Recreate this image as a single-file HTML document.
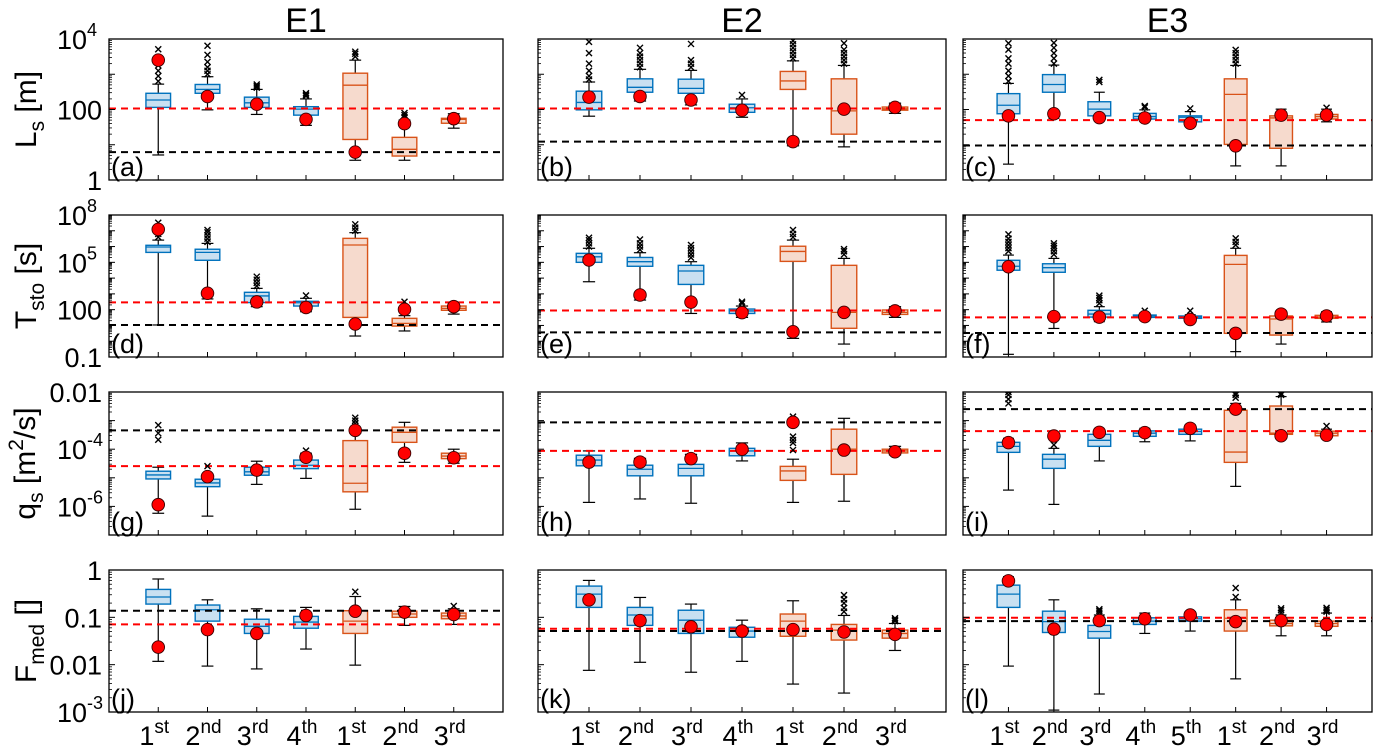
<!DOCTYPE html>
<html><head><meta charset="utf-8"><style>
html,body{margin:0;padding:0;background:#fff;}
svg{display:block;font-family:"Liberation Sans",Arial,sans-serif;}
</style></head><body>
<svg id="fig" width="1373" height="749" viewBox="0 0 1373 749" xmlns="http://www.w3.org/2000/svg"></svg>
<script>
// ---- data (log10 units) ----
const catsE1=["1st","2nd","3rd","4th","1st","2nd","3rd"];
const catsE2=["1st","2nd","3rd","4th","1st","2nd","3rd"];
const catsE3=["1st","2nd","3rd","4th","5th","1st","2nd","3rd"];
const nBlueE1=4, nBlueE2=4, nBlueE3=5;

const a_q1=[2.06,2.46,2.06,1.84,1.15,0.68,1.61];
const a_med=[2.27,2.57,2.19,2.01,2.69,0.87,1.72];
const a_q3=[2.46,2.71,2.35,2.08,3.03,1.21,1.75];
const a_wlo=[0.71,1.99,1.86,1.55,0.56,0.56,1.47];
const a_whi=[2.72,2.93,2.57,2.30,3.40,1.70,1.88];
const a_red=[3.40,2.37,2.15,1.72,0.79,1.60,1.74];
const a_out=[[2.8,2.95,3.1,3.25,3.45,3.71],[3.0,3.1,3.2,3.35,3.55,3.81],[2.62,2.66,2.71],[2.38,2.42,2.46],[3.5,3.58,3.64],[1.78,1.84,1.9],[]];
const a_ref=[2.03,0.79];

const b_q1=[1.99,2.49,2.46,1.92,2.57,1.30,1.98];
const b_med=[2.20,2.63,2.60,2.05,2.81,1.96,2.02];
const b_q3=[2.52,2.87,2.86,2.15,3.08,2.87,2.07];
const b_wlo=[1.81,2.24,2.13,1.78,0.97,0.94,1.89];
const b_whi=[2.78,3.14,3.11,2.30,3.38,3.25,2.18];
const b_red=[2.35,2.37,2.27,1.98,1.09,2.01,2.06];
const b_out=[[2.85,2.95,3.1,3.3,3.6,3.92],[3.2,3.3,3.4,3.5,3.6,3.75],[3.2,3.3,3.4,3.86],[2.41],[3.45,3.55,3.65,3.75,3.85,3.95],[3.3,3.4,3.5,3.6,3.7,3.88],[]];
const b_ref=[2.03,1.09];

const c_q1=[1.88,2.49,1.82,1.73,1.65,1.01,0.90,1.73];
const c_med=[2.12,2.71,2.01,1.80,1.78,2.43,1.76,1.80];
const c_q3=[2.45,2.99,2.22,1.89,1.82,2.87,1.82,1.86];
const c_wlo=[0.45,1.75,1.77,1.68,1.61,0.40,0.40,1.65];
const c_whi=[2.74,3.26,2.49,1.99,1.94,3.25,2.01,2.01];
const c_red=[1.82,1.88,1.77,1.76,1.61,0.97,1.84,1.84];
const c_out=[[2.8,2.95,3.1,3.3,3.45,3.7,3.88],[3.3,3.45,3.6,3.75,3.89],[2.78,2.84],[2.06,2.1],[2.03],[3.3,3.4,3.5,3.6,3.69],[],[2.05]];
const c_ref=[1.70,0.98];

const d_q1=[5.63,5.13,2.45,2.23,1.51,0.96,1.96];
const d_med=[5.97,5.63,2.87,2.44,6.10,1.13,2.08];
const d_q3=[6.08,5.83,3.10,2.53,6.52,1.45,2.23];
const d_wlo=[1.03,2.68,2.19,1.87,0.33,0.65,1.72];
const d_whi=[6.41,6.20,3.35,2.72,6.88,1.62,2.40];
const d_red=[7.09,3.04,2.49,2.14,1.09,2.02,2.19];
const d_out=[[6.6,6.8,7.0,7.2,7.51],[6.3,6.5,6.7,6.9,7.05],[3.5,3.7,3.9,4.09],[2.9],[7.0,7.2,7.41],[1.9,2.2,2.5],[]];
const d_ref=[2.46,1.03];

const e_q1=[5.00,4.75,3.60,1.76,5.06,0.82,1.70];
const e_med=[5.35,5.04,4.45,1.92,5.69,1.83,1.83];
const e_q3=[5.57,5.31,4.81,2.04,6.02,4.81,1.98];
const e_wlo=[3.77,2.61,1.76,1.51,0.18,-0.18,1.51];
const e_whi=[5.89,5.61,5.04,2.23,6.41,5.25,2.19];
const e_red=[5.15,2.93,2.48,1.81,0.60,1.83,1.92];
const e_out=[[6.0,6.2,6.4,6.56],[5.8,6.0,6.2,6.45],[5.3,5.5,5.7,5.9,6.1],[2.4,2.5],[6.6,6.8,7.05],[5.5,5.7,5.84],[]];
const e_ref=[1.95,0.56];

const f_q1=[4.50,4.37,1.53,1.51,1.45,0.50,0.39,1.45];
const f_med=[4.75,4.66,1.72,1.59,1.53,4.87,1.41,1.53];
const f_q3=[5.13,4.91,1.96,1.66,1.60,5.44,1.60,1.64];
const f_wlo=[-0.83,0.81,1.24,1.45,1.39,-0.66,-0.18,1.22];
const f_whi=[5.46,5.25,2.19,1.78,1.68,5.89,1.87,1.87];
const f_red=[4.72,1.56,1.53,1.56,1.38,0.50,1.72,1.60];
const f_out=[[5.7,5.9,6.1,6.3,6.5,6.77],[5.5,5.7,5.9,6.05,6.2],[2.4,2.6,2.75,2.89],[1.93],[1.93],[6.1,6.3,6.52],[],[]];
const f_ref=[1.51,0.52];

const g_q1=[-5.04,-5.31,-4.91,-4.68,-5.49,-3.76,-4.33];
const g_med=[-4.90,-5.18,-4.79,-4.56,-5.19,-3.41,-4.24];
const g_q3=[-4.77,-5.05,-4.63,-4.38,-3.70,-3.23,-4.14];
const g_wlo=[-6.24,-6.34,-5.23,-5.02,-6.10,-4.46,-4.49];
const g_whi=[-4.63,-4.94,-4.42,-4.14,-3.44,-3.06,-4.00];
const g_red=[-5.94,-4.96,-4.73,-4.28,-3.34,-4.14,-4.30];
const g_out=[[-3.67,-3.44,-3.16],[-4.59],[],[-4.05],[-3.2,-3.1,-3.0,-2.9],[],[]];
const g_ref=[-4.59,-3.34];

const h_q1=[-4.58,-4.93,-4.93,-4.23,-5.09,-4.88,-4.13];
const h_med=[-4.38,-4.70,-4.67,-4.06,-4.76,-4.00,-4.06];
const h_q3=[-4.21,-4.56,-4.53,-3.97,-4.60,-3.30,-4.00];
const h_wlo=[-5.86,-5.74,-5.89,-4.41,-5.86,-5.82,-4.20];
const h_whi=[-4.06,-4.32,-4.18,-3.78,-4.35,-2.92,-3.90];
const h_red=[-4.45,-4.45,-4.33,-4.00,-3.06,-4.03,-4.09];
const h_out=[[],[],[],[],[-4.03,-3.78,-3.68,-3.56,-2.95,-2.86],[],[]];
const h_ref=[-4.06,-3.06];

const i_q1=[-4.11,-4.67,-3.90,-3.55,-3.48,-4.46,-3.48,-3.53];
const i_med=[-3.90,-4.35,-3.69,-3.44,-3.38,-4.10,-3.44,-3.44];
const i_q3=[-3.76,-4.18,-3.48,-3.36,-3.30,-2.64,-2.49,-3.37];
const i_wlo=[-5.43,-5.93,-4.41,-3.74,-3.71,-5.30,-3.55,-3.58];
const i_whi=[-3.62,-3.97,-3.35,-3.27,-3.15,-2.40,-2.16,-3.30];
const i_red=[-3.77,-3.54,-3.41,-3.42,-3.27,-2.60,-3.53,-3.51];
const i_out=[[-2.4,-2.25,-2.1,-2.0],[-3.85],[],[],[],[-2.2,-2.1,-2.05],[-2.1,-2.05],[-3.19]];
const i_ref=[-3.37,-2.60];

const j_q1=[-0.72,-1.08,-1.34,-1.23,-1.34,-1.00,-1.03];
const j_med=[-0.57,-0.84,-1.19,-1.10,-1.08,-0.93,-0.97];
const j_q3=[-0.41,-0.74,-1.04,-0.98,-0.86,-0.87,-0.91];
const j_wlo=[-1.93,-2.03,-2.09,-1.67,-2.01,-1.17,-1.15];
const j_whi=[-0.19,-0.63,-0.82,-0.79,-0.56,-0.77,-0.82];
const j_red=[-1.63,-1.26,-1.34,-0.96,-0.87,-0.89,-0.94];
const j_out=[[],[],[],[],[-0.46],[],[-0.76]];
const j_ref=[-1.15,-0.86];

const k_q1=[-0.79,-1.17,-1.34,-1.42,-1.40,-1.48,-1.44];
const k_med=[-0.51,-0.95,-1.06,-1.29,-1.08,-1.27,-1.34];
const k_q3=[-0.34,-0.79,-0.85,-1.21,-0.93,-1.15,-1.27];
const k_wlo=[-2.12,-1.95,-2.16,-1.93,-2.41,-2.60,-1.70];
const k_whi=[-0.22,-0.58,-0.72,-1.06,-0.65,-0.96,-1.13];
const k_red=[-0.63,-1.07,-1.20,-1.29,-1.26,-1.31,-1.36];
const k_out=[[],[],[],[],[],[-0.88,-0.8,-0.7,-0.62,-0.53],[-1.08,-1.05,-1.02]];
const k_ref=[-1.24,-1.29];

const l_q1=[-0.79,-1.32,-1.44,-1.15,-1.08,-1.29,-1.18,-1.19];
const l_med=[-0.51,-1.09,-1.30,-1.08,-1.03,-1.02,-1.13,-1.13];
const l_q3=[-0.32,-0.87,-1.17,-1.01,-0.99,-0.84,-1.06,-1.08];
const l_wlo=[-2.03,-2.96,-2.62,-1.34,-1.29,-2.30,-1.39,-1.39];
const l_whi=[-0.14,-0.63,-0.95,-0.91,-0.88,-0.63,-0.95,-0.91];
const l_red=[-0.23,-1.25,-1.07,-1.03,-0.95,-1.09,-1.07,-1.15];
const l_out=[[],[],[-0.9,-0.86,-0.83],[],[],[-0.57,-0.38],[-0.9,-0.85,-0.81],[-0.88,-0.84,-0.8]];
const l_ref=[-1.01,-1.08];

// ---- layout ----
const NS="http://www.w3.org/2000/svg";
const svg=document.getElementById('fig');
function mk(tag,attrs,parent){const e=document.createElementNS(NS,tag);for(const k in attrs)e.setAttribute(k,attrs[k]);(parent||svg).appendChild(e);return e;}

const cols=[{x0:109,x1:503,xmax:8,cats:catsE1,nb:nBlueE1,title:"E1"},
            {x0:538,x1:946,xmax:8,cats:catsE2,nb:nBlueE2,title:"E2"},
            {x0:963,x1:1372,xmax:9,cats:catsE3,nb:nBlueE3,title:"E3"}];
const rows=[{y0:39,y1:180,lo:0,hi:4},{y0:215,y1:357,lo:-1,hi:8},{y0:392,y1:535,lo:-7,hi:-2},{y0:570,y1:712,lo:-3,hi:0}];
const panels=[
 ["a",a_q1,a_med,a_q3,a_wlo,a_whi,a_red,a_out,a_ref],["b",b_q1,b_med,b_q3,b_wlo,b_whi,b_red,b_out,b_ref],["c",c_q1,c_med,c_q3,c_wlo,c_whi,c_red,c_out,c_ref],
 ["d",d_q1,d_med,d_q3,d_wlo,d_whi,d_red,d_out,d_ref],["e",e_q1,e_med,e_q3,e_wlo,e_whi,e_red,e_out,e_ref],["f",f_q1,f_med,f_q3,f_wlo,f_whi,f_red,f_out,f_ref],
 ["g",g_q1,g_med,g_q3,g_wlo,g_whi,g_red,g_out,g_ref],["h",h_q1,h_med,h_q3,h_wlo,h_whi,h_red,h_out,h_ref],["i",i_q1,i_med,i_q3,i_wlo,i_whi,i_red,i_out,i_ref],
 ["j",j_q1,j_med,j_q3,j_wlo,j_whi,j_red,j_out,j_ref],["k",k_q1,k_med,k_q3,k_wlo,k_whi,k_red,k_out,k_ref],["l",l_q1,l_med,l_q3,l_wlo,l_whi,l_red,l_out,l_ref]];
const yTickLabels=[[[0,"1"],[2,"100"],[4,"10","4"]],[[-1,"0.1"],[2,"100"],[5,"10","5"],[8,"10","8"]],[[-2,"0.01"],[-4,"10","-4"],[-6,"10","-6"]],[[0,"1"],[-1,"0.1"],[-2,"0.01"],[-3,"10","-3"]]];

// titles
cols.forEach((c,ci)=>{
  const t=mk('text',{x:(c.x0+c.x1)/2,y:32,'font-size':34,'text-anchor':'middle'});
  t.textContent=c.title;
  
  
});

// y-axis titles
const ylabs=[["L","s"," [m]"],["T","sto"," [s]"],["q","s"," [m","2","/s]"],["F","med"," []"]];
ylabs.forEach((lab,ri)=>{
  const r=rows[ri];const cy=(r.y0+r.y1)/2;
  const t=mk('text',{x:0,y:0,'font-size':30,'text-anchor':'middle',transform:`translate(${ri==2?35:36},${cy}) rotate(-90)`});
  
  
  let s=mk('tspan',{},t);s.textContent=lab[0];
  s=mk('tspan',{'font-size':21,dy:8},t);s.textContent=lab[1];
  s=mk('tspan',{dy:-8},t);s.textContent=lab[2];
  if(lab.length>3){s=mk('tspan',{'font-size':21,dy:-12},t);s.textContent=lab[3];s=mk('tspan',{dy:12},t);s.textContent=lab[4];}
});

panels.forEach((p,pi)=>{
  const ci=pi%3, ri=Math.floor(pi/3), c=cols[ci], r=rows[ri];
  const [lett,q1,med,q3,wlo,whi,red,out,ref]=p;
  const sx=v=>c.x0+(c.x1-c.x0)*v/c.xmax;
  const sy=v=>r.y1-(r.y1-r.y0)*(v-r.lo)/(r.hi-r.lo);
  const unit=(c.x1-c.x0)/c.xmax;
  const g=mk('g',{});
  
  
  const clip=mk('clipPath',{id:'cp'+lett},g);mk('rect',{x:c.x0,y:r.y0,width:c.x1-c.x0,height:r.y1-r.y0},clip);
  const plot=mk('g',{'clip-path':`url(#cp${lett})`},g);
  q1.forEach((_,k)=>{
    const x=sx(k+1), blue=k<c.nb;
    const stroke=blue?"#0072bd":"#d95319", fill=blue?"#c9e0f1":"#f6dacd";
    const bg=mk('g',{},plot);
    
    
    mk('line',{x1:x,x2:x,y1:sy(q1[k]),y2:sy(wlo[k]),stroke:"#000",'stroke-width':1.2},bg);
    mk('line',{x1:x,x2:x,y1:sy(q3[k]),y2:sy(whi[k]),stroke:"#000",'stroke-width':1.2},bg);
    mk('line',{x1:x-unit*0.12,x2:x+unit*0.12,y1:sy(wlo[k]),y2:sy(wlo[k]),stroke:"#000",'stroke-width':1.2},bg);
    mk('line',{x1:x-unit*0.12,x2:x+unit*0.12,y1:sy(whi[k]),y2:sy(whi[k]),stroke:"#000",'stroke-width':1.2},bg);
    const top=sy(q3[k]),bot=sy(q1[k]);
    mk('rect',{x:x-unit*0.25,y:top,width:unit*0.5,height:Math.max(bot-top,1),fill:fill,stroke:stroke,'stroke-width':1.4},bg);
    mk('line',{x1:x-unit*0.25,x2:x+unit*0.25,y1:sy(med[k]),y2:sy(med[k]),stroke:stroke,'stroke-width':1.3},bg);
  });
  const rl=mk('line',{x1:c.x0,x2:c.x1,y1:sy(ref[0]),y2:sy(ref[0]),stroke:"#ff0000",'stroke-width':2,'stroke-dasharray':'7 5'},plot);
  
  
  const bl=mk('line',{x1:c.x0,x2:c.x1,y1:sy(ref[1]),y2:sy(ref[1]),stroke:"#000",'stroke-width':2,'stroke-dasharray':'7 5'},plot);
  
  
  out.forEach((arr,k)=>{arr.forEach(v=>{
    const x=sx(k+1),y=sy(v);
    const o=mk('path',{d:`M${x-3},${y-3}L${x+3},${y+3}M${x-3},${y+3}L${x+3},${y-3}`,stroke:"#000",'stroke-width':1.4},plot);
    
    
  });});
  red.forEach((v,k)=>{
    const d=mk('circle',{cx:sx(k+1),cy:sy(v),r:6.3,fill:"#ff0000",stroke:"#3a0000",'stroke-width':0.9},plot);
    
    
  });
  mk('rect',{x:c.x0,y:r.y0,width:c.x1-c.x0,height:r.y1-r.y0,fill:"none",stroke:"#000",'stroke-width':1.3},g);
  for(let e=r.lo;e<=r.hi;e++){
    const y=sy(e);
    mk('line',{x1:c.x0,x2:c.x0+6,y1:y,y2:y,stroke:"#000",'stroke-width':1},g);
    if(e<r.hi)for(let m=2;m<10;m++){const yy=sy(e+Math.log10(m));mk('line',{x1:c.x0,x2:c.x0+3,y1:yy,y2:yy,stroke:"#000",'stroke-width':0.8},g);}
  }
  for(let k=1;k<c.xmax;k++){mk('line',{x1:sx(k),x2:sx(k),y1:r.y1,y2:r.y1-5,stroke:"#000",'stroke-width':1},g);}
  const pl=mk('text',{x:c.x0+2,y:r.y1-4,'font-size':27},g);
  pl.textContent='('+lett+')';
  
  
  if(ci===0){
    yTickLabels[ri].forEach(tl=>{
      const t=mk('text',{x:tl.length>2?c.x0-22:c.x0-7,y:sy(tl[0])+10,'font-size':27,'text-anchor':'end'},g);
      
      
      let s=mk('tspan',{},t);s.textContent=tl[1];
      if(tl.length>2){const s2=mk('tspan',{'font-size':18,dy:-13,x:c.x0-22,'text-anchor':'start'},t);s2.textContent=tl[2];}
    });
  }
  if(ri===3){
    c.cats.forEach((lab,k)=>{
      const x=sx(k+1);
      const t=mk('text',{x:x-4,y:745,'font-size':27,'text-anchor':'middle'},g);
      
      
      let s=mk('tspan',{},t);s.textContent=lab[0];
      s=mk('tspan',{'font-size':19,dy:-12},t);s.textContent=lab.slice(1);
    });
  }
});
</script>
</body></html>
